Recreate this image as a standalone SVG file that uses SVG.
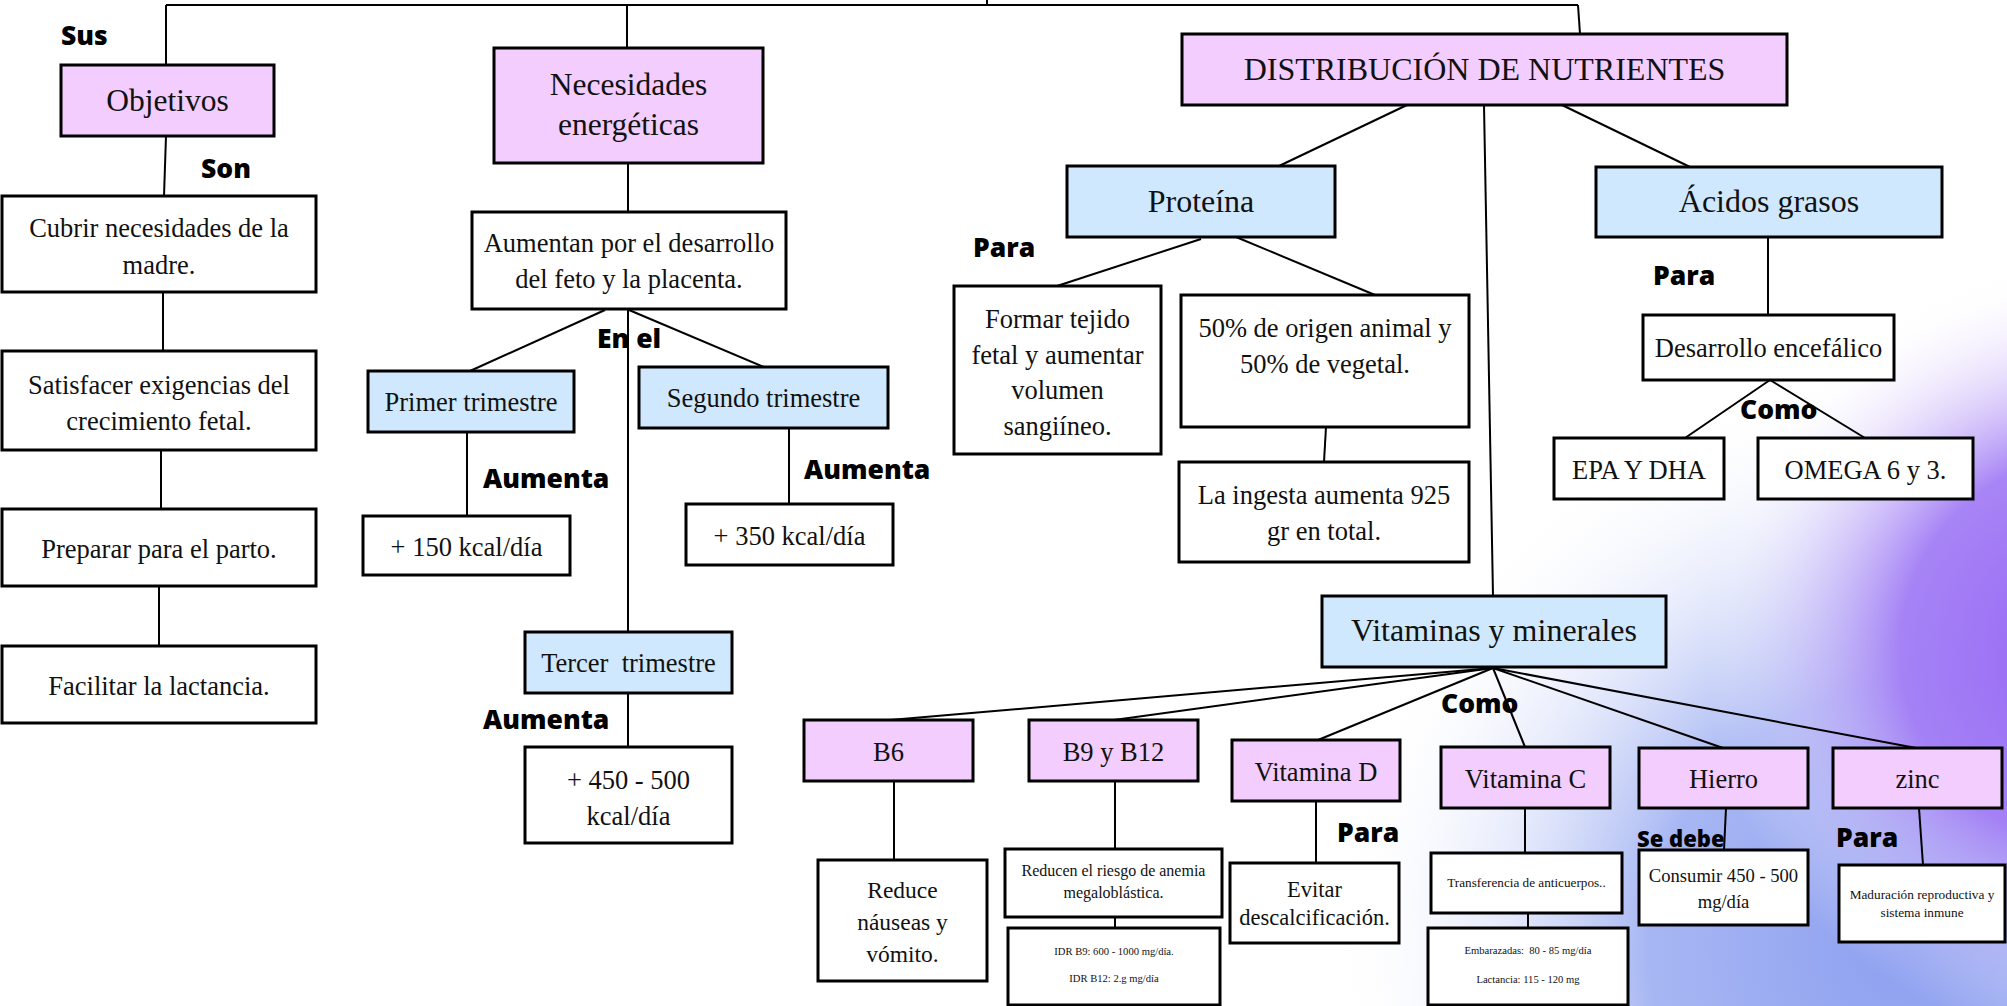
<svg xmlns="http://www.w3.org/2000/svg" width="2007" height="1006" viewBox="0 0 2007 1006">
<defs>
<radialGradient id="gBlue" gradientUnits="userSpaceOnUse" cx="1910" cy="950" r="580">
<stop offset="0" stop-color="#8d9ff0"/>
<stop offset="0.45" stop-color="#9fb0f2" stop-opacity="0.92"/>
<stop offset="1" stop-color="#ffffff" stop-opacity="0"/>
</radialGradient>
<radialGradient id="gPurple" gradientUnits="userSpaceOnUse" cx="2095" cy="650" r="390">
<stop offset="0" stop-color="#9664f6"/>
<stop offset="0.5" stop-color="#a47ff5" stop-opacity="0.95"/>
<stop offset="1" stop-color="#ffffff" stop-opacity="0"/>
</radialGradient>
<style>
.bx{stroke:#000;stroke-width:3}
.pk{fill:#f3cdfd}
.bl{fill:#cfe8fd}
.wh{fill:#ffffff}
.t{font-family:"Liberation Serif","Times New Roman",serif;fill:#111;text-anchor:middle}
.lb{font-family:"Open Sans","DejaVu Sans",sans-serif;font-weight:800;font-size:26.5px;fill:#000}
.c{fill:none;stroke:#000;stroke-width:2}
</style>
</defs>
<rect width="2007" height="1006" fill="#ffffff"/>
<rect x="1300" y="300" width="707" height="706" fill="url(#gBlue)"/>
<rect x="1600" y="200" width="407" height="806" fill="url(#gPurple)"/>

<g id="connectors">
<path class="c" d="M166,5 H1578" stroke-width="2.5"/>
<path class="c" d="M987,0 V5"/>
<path class="c" d="M166,5 V65"/>
<path class="c" d="M627,5 V48"/>
<path class="c" d="M1578,5 L1580,34"/>
<path class="c" d="M166,136 L164,196"/>
<path class="c" d="M163,292 V351"/>
<path class="c" d="M161,450 V509"/>
<path class="c" d="M159,586 V646"/>
<path class="c" d="M628,163 V212"/>
<path class="c" d="M605,310 L470,371"/>
<path class="c" d="M628,310 V632"/>
<path class="c" d="M629,310 L764,367"/>
<path class="c" d="M467,432 V516"/>
<path class="c" d="M789,428 V504"/>
<path class="c" d="M628,693 V747"/>
<path class="c" d="M1407,105 L1279,166"/>
<path class="c" d="M1562,105 L1690,167"/>
<path class="c" d="M1484,105 L1493,596"/>
<path class="c" d="M1201,239 L1057,286"/>
<path class="c" d="M1236,237 L1375,295"/>
<path class="c" d="M1326,427 L1324,462"/>
<path class="c" d="M1768,237 V315"/>
<path class="c" d="M1770,380 L1685,438"/>
<path class="c" d="M1770,380 L1865,438"/>
<path class="c" d="M1493,668 L890,720" stroke-width="2.5"/>
<path class="c" d="M1493,668 L1114,720" stroke-width="2.5"/>
<path class="c" d="M1493,668 L1318,740" stroke-width="2.5"/>
<path class="c" d="M1493,668 L1525,747" stroke-width="2.5"/>
<path class="c" d="M1493,668 L1723,748" stroke-width="2.5"/>
<path class="c" d="M1493,668 L1916,748" stroke-width="2.5"/>
<path class="c" d="M894,781 V860"/>
<path class="c" d="M1115,781 V849"/>
<path class="c" d="M1115,917 V928"/>
<path class="c" d="M1316,801 V863"/>
<path class="c" d="M1525,808 V853"/>
<path class="c" d="M1528,913 V928"/>
<path class="c" d="M1726,808 L1724,850"/>
<path class="c" d="M1919,808 L1923,865"/>
</g>

<g id="labels">
<text class="lb" x="61" y="45">Sus</text>
<text class="lb" x="201" y="178">Son</text>
<text class="lb" x="597" y="348">En el</text>
<text class="lb" x="483" y="488">Aumenta</text>
<text class="lb" x="804" y="479">Aumenta</text>
<text class="lb" x="483" y="729">Aumenta</text>
<text class="lb" x="973" y="257">Para</text>
<text class="lb" x="1653" y="285">Para</text>
<text class="lb" x="1740" y="419">Como</text>
<text class="lb" x="1441" y="713">Como</text>
<text class="lb" x="1337" y="842">Para</text>
<text class="lb" x="1637" y="847" style="font-size:22px">Se debe</text>
<text class="lb" x="1836" y="847">Para</text>
</g>

<g id="objetivos"><rect class="bx pk" x="61" y="65" width="213" height="71"/><text class="t" x="167.5" y="111" font-size="31.5">Objetivos</text></g>
<g id="necesidades"><rect class="bx pk" x="494" y="48" width="269" height="115"/><text class="t" x="628.5" y="95" font-size="31.5">Necesidades</text><text class="t" x="628.5" y="135" font-size="31.5">energéticas</text></g>
<g id="distribucion"><rect class="bx pk" x="1182" y="34" width="605" height="71"/><text class="t" x="1484.5" y="80" font-size="32">DISTRIBUCIÓN DE NUTRIENTES</text></g>

<g id="cubrir"><rect class="bx wh" x="2" y="196" width="314" height="96"/><text class="t" x="159" y="237" font-size="26.5">Cubrir necesidades de la</text><text class="t" x="159" y="274" font-size="26.5">madre.</text></g>
<g id="satisfacer"><rect class="bx wh" x="2" y="351" width="314" height="99"/><text class="t" x="159" y="394" font-size="26.5">Satisfacer exigencias del</text><text class="t" x="159" y="430" font-size="26.5">crecimiento fetal.</text></g>
<g id="preparar"><rect class="bx wh" x="2" y="509" width="314" height="77"/><text class="t" x="159" y="558" font-size="26.5">Preparar para el parto.</text></g>
<g id="facilitar"><rect class="bx wh" x="2" y="646" width="314" height="77"/><text class="t" x="159" y="695" font-size="26.5">Facilitar la lactancia.</text></g>

<g id="aumentan"><rect class="bx wh" x="472" y="212" width="314" height="97"/><text class="t" x="629" y="252" font-size="26.5">Aumentan por el desarrollo</text><text class="t" x="629" y="288" font-size="26.5">del feto y la placenta.</text></g>
<g id="primer"><rect class="bx bl" x="368" y="371" width="206" height="61"/><text class="t" x="471" y="411" font-size="26.5">Primer trimestre</text></g>
<g id="segundo"><rect class="bx bl" x="639" y="367" width="249" height="61"/><text class="t" x="763.5" y="407" font-size="26.5">Segundo trimestre</text></g>
<g id="kcal150"><rect class="bx wh" x="363" y="516" width="207" height="59"/><text class="t" x="466.5" y="556" font-size="26.5">+ 150 kcal/día</text></g>
<g id="kcal350"><rect class="bx wh" x="686" y="504" width="207" height="61"/><text class="t" x="789.5" y="545" font-size="26.5">+ 350 kcal/día</text></g>
<g id="tercer"><rect class="bx bl" x="525" y="632" width="207" height="61"/><text class="t" x="628.5" y="672" font-size="26.5" xml:space="preserve" style="white-space:pre">Tercer  trimestre</text></g>
<g id="kcal450"><rect class="bx wh" x="525" y="747" width="207" height="96"/><text class="t" x="628.5" y="789" font-size="26.5">+ 450 - 500</text><text class="t" x="628.5" y="825" font-size="26.5">kcal/día</text></g>

<g id="proteina"><rect class="bx bl" x="1067" y="166" width="268" height="71"/><text class="t" x="1201" y="212" font-size="32">Proteína</text></g>
<g id="acidos"><rect class="bx bl" x="1596" y="167" width="346" height="70"/><text class="t" x="1769" y="212" font-size="32">Ácidos grasos</text></g>
<g id="formar"><rect class="bx wh" x="954" y="286" width="207" height="168"/><text class="t" x="1057.5" y="328" font-size="26.5">Formar tejido</text><text class="t" x="1057.5" y="364" font-size="26.5">fetal y aumentar</text><text class="t" x="1057.5" y="399" font-size="26.5">volumen</text><text class="t" x="1057.5" y="435" font-size="26.5">sangiíneo.</text></g>
<g id="origen"><rect class="bx wh" x="1181" y="295" width="288" height="132"/><text class="t" x="1325" y="337" font-size="26.5">50% de origen animal y</text><text class="t" x="1325" y="373" font-size="26.5">50% de vegetal.</text></g>
<g id="ingesta"><rect class="bx wh" x="1179" y="462" width="290" height="100"/><text class="t" x="1324" y="504" font-size="26.5">La ingesta aumenta 925</text><text class="t" x="1324" y="540" font-size="26.5">gr en total.</text></g>
<g id="desarrollo"><rect class="bx wh" x="1643" y="315" width="251" height="65"/><text class="t" x="1768.5" y="357" font-size="26.5">Desarrollo encefálico</text></g>
<g id="epa"><rect class="bx wh" x="1554" y="438" width="170" height="61"/><text class="t" x="1639" y="479" font-size="26.5">EPA Y DHA</text></g>
<g id="omega"><rect class="bx wh" x="1758" y="438" width="215" height="61"/><text class="t" x="1865.5" y="479" font-size="26.5">OMEGA 6 y 3.</text></g>

<g id="vitaminas"><rect class="bx bl" x="1322" y="596" width="344" height="71"/><text class="t" x="1494" y="641" font-size="32">Vitaminas y minerales</text></g>
<g id="b6"><rect class="bx pk" x="804" y="720" width="169" height="61"/><text class="t" x="888.5" y="761" font-size="26.5">B6</text></g>
<g id="b9b12"><rect class="bx pk" x="1029" y="720" width="169" height="61"/><text class="t" x="1113.5" y="761" font-size="26.5">B9 y B12</text></g>
<g id="vitd"><rect class="bx pk" x="1232" y="740" width="168" height="61"/><text class="t" x="1316" y="781" font-size="26.5">Vitamina D</text></g>
<g id="vitc"><rect class="bx pk" x="1441" y="747" width="169" height="61"/><text class="t" x="1525.5" y="788" font-size="26.5">Vitamina C</text></g>
<g id="hierro"><rect class="bx pk" x="1639" y="748" width="169" height="60"/><text class="t" x="1723.5" y="788" font-size="26.5">Hierro</text></g>
<g id="zinc"><rect class="bx pk" x="1833" y="748" width="169" height="60"/><text class="t" x="1917.5" y="788" font-size="26.5">zinc</text></g>

<g id="reduce"><rect class="bx wh" x="818" y="860" width="169" height="121"/><text class="t" x="902.5" y="898" font-size="23.5">Reduce</text><text class="t" x="902.5" y="930" font-size="23.5">náuseas y</text><text class="t" x="902.5" y="962" font-size="23.5">vómito.</text></g>
<g id="reducen"><rect class="bx wh" x="1005" y="849" width="217" height="68"/><text class="t" x="1113.5" y="876" font-size="16">Reducen el riesgo de anemia</text><text class="t" x="1113.5" y="898" font-size="16">megaloblástica.</text></g>
<g id="idr"><rect class="bx wh" x="1008" y="928" width="212" height="77"/><text class="t" x="1114" y="955" font-size="10.6">IDR B9: 600 - 1000 mg/día.</text><text class="t" x="1114" y="982" font-size="10.6">IDR B12: 2.g mg/día</text></g>
<g id="evitar"><rect class="bx wh" x="1230" y="863" width="169" height="80"/><text class="t" x="1314.5" y="897" font-size="22.5">Evitar</text><text class="t" x="1314.5" y="925" font-size="22.5">descalcificación.</text></g>
<g id="transferencia"><rect class="bx wh" x="1431" y="853" width="191" height="60"/><text class="t" x="1526.5" y="887" font-size="13.2">Transferencia de anticuerpos..</text></g>
<g id="embarazadas"><rect class="bx wh" x="1428" y="928" width="200" height="77"/><text class="t" x="1528" y="954" font-size="10.6" xml:space="preserve" style="white-space:pre">Embarazadas:  80 - 85 mg/día</text><text class="t" x="1528" y="983" font-size="10.6">Lactancia: 115 - 120 mg</text></g>
<g id="consumir"><rect class="bx wh" x="1639" y="850" width="169" height="75"/><text class="t" x="1723.5" y="882" font-size="18.6">Consumir 450 - 500</text><text class="t" x="1723.5" y="908" font-size="18.6">mg/día</text></g>
<g id="maduracion"><rect class="bx wh" x="1839" y="865" width="166" height="77"/><text class="t" x="1922" y="899" font-size="13.3">Maduración reproductiva y</text><text class="t" x="1922" y="917" font-size="13.3">sistema inmune</text></g>
</svg>
